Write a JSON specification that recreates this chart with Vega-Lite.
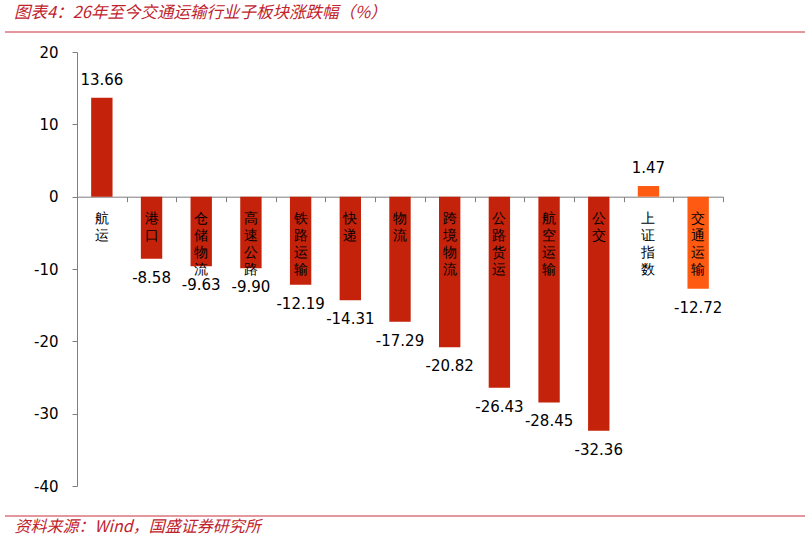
{
  "$schema": "https://vega.github.io/schema/vega-lite/v6.json",
  "width": 646,
  "height": 434,
  "autosize": "none",
  "padding": {"left": 77, "top": 52, "right": 88, "bottom": 55},
  "background": "white",
  "config": {
    "view": {"stroke": null},
    "font": "DejaVu Sans",
    "locale": {"number": {"decimal": ".", "thousands": ",", "grouping": [3], "currency": ["", ""], "minus": "-"}}
  },
  "title": {
    "text": "图表4：26年至今交通运输行业子板块涨跌幅（%）",
    "anchor": "start",
    "frame": "group",
    "dx": -63,
    "offset": 10,
    "font": "Noto Sans CJK SC",
    "fontSize": 16.5,
    "fontStyle": "italic",
    "fontWeight": "normal",
    "color": "#C0232D"
  },
  "data": {
    "values": [
      {"name": "航运", "value": 13.66, "type": "子板块"},
      {"name": "港口", "value": -8.58, "type": "子板块"},
      {"name": "仓储物流", "value": -9.63, "type": "子板块"},
      {"name": "高速公路", "value": -9.90, "type": "子板块"},
      {"name": "铁路运输", "value": -12.19, "type": "子板块"},
      {"name": "快递", "value": -14.31, "type": "子板块"},
      {"name": "物流", "value": -17.29, "type": "子板块"},
      {"name": "跨境物流", "value": -20.82, "type": "子板块"},
      {"name": "公路货运", "value": -26.43, "type": "子板块"},
      {"name": "航空运输", "value": -28.45, "type": "子板块"},
      {"name": "公交", "value": -32.36, "type": "子板块"},
      {"name": "上证指数", "value": 1.47, "type": "指数"},
      {"name": "交通运输", "value": -12.72, "type": "指数"}
    ]
  },
  "encoding": {
    "x": {
      "field": "name",
      "type": "nominal",
      "sort": null,
      "scale": {"paddingInner": 0, "paddingOuter": 0},
      "axis": {
        "orient": "bottom",
        "offset": -289.3,
        "labels": false,
        "domainColor": "#7f7f7f",
        "tickColor": "#7f7f7f",
        "tickSize": 5,
        "tickBand": "extent",
        "title": "资料来源：Wind，国盛证券研究所",
        "titleX": -63,
        "titleY": 330,
        "titleAlign": "left",
        "titleBaseline": "middle",
        "titleFont": "Noto Sans CJK SC",
        "titleFontSize": 16,
        "titleFontStyle": "italic",
        "titleFontWeight": "normal",
        "titleColor": "#C0232D"
      }
    }
  },
  "layer": [
    {
      "mark": {"type": "bar", "width": {"band": 0.43}},
      "encoding": {
        "y": {
          "field": "value",
          "type": "quantitative",
          "scale": {"domain": [-40, 20], "nice": false, "zero": true},
          "axis": {
            "values": [-40, -30, -20, -10, 0, 10, 20],
            "grid": false,
            "title": null,
            "domainColor": "#7f7f7f",
            "tickColor": "#7f7f7f",
            "tickSize": 5,
            "labelFontSize": 15,
            "labelColor": "#000000",
            "labelPadding": 14,
            "labelFont": "DejaVu Sans"
          }
        },
        "color": {
          "field": "type",
          "type": "nominal",
          "scale": {"domain": ["子板块", "指数"], "range": ["#C4220A", "#FF5A12"]},
          "legend": null
        }
      }
    },
    {
      "transform": [{"calculate": "split(datum.name, '')", "as": "chars"}],
      "mark": {"type": "text", "baseline": "top", "dy": 15, "fontSize": 14, "lineHeight": 17, "font": "DejaVu Sans", "color": "#000000"},
      "encoding": {
        "y": {"datum": 0, "type": "quantitative"},
        "text": {"field": "chars", "type": "nominal"}
      }
    },
    {
      "transform": [{"filter": "datum.value > 0"}],
      "mark": {"type": "text", "baseline": "middle", "dy": -18, "fontSize": 15, "color": "#000000"},
      "encoding": {
        "y": {"field": "value", "type": "quantitative"},
        "text": {"field": "value", "type": "quantitative", "format": ".2f"}
      }
    },
    {
      "transform": [{"filter": "datum.value < 0"}],
      "mark": {"type": "text", "baseline": "middle", "dy": 19, "fontSize": 15, "color": "#000000"},
      "encoding": {
        "y": {"field": "value", "type": "quantitative"},
        "text": {"field": "value", "type": "quantitative", "format": ".2f"}
      }
    },
    {
      "data": {"values": [{"line": "top"}]},
      "mark": {"type": "rule", "color": "#C8303C", "strokeWidth": 1},
      "encoding": {"x": {"value": -72}, "x2": {"value": 728}, "y": {"value": -20}}
    },
    {
      "data": {"values": [{"line": "bottom"}]},
      "mark": {"type": "rule", "color": "#C8303C", "strokeWidth": 1},
      "encoding": {"x": {"value": -72}, "x2": {"value": 728}, "y": {"value": 464}}
    }
  ]
}
